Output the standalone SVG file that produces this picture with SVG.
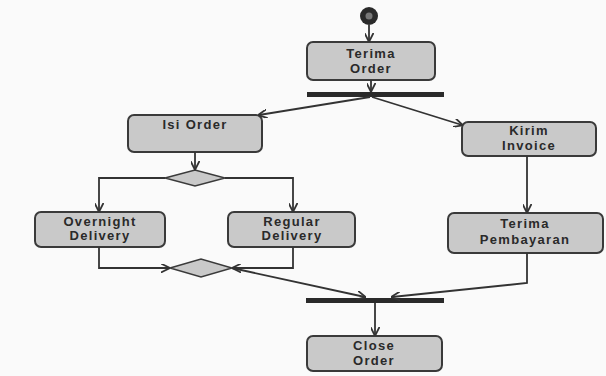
<svg xmlns="http://www.w3.org/2000/svg" width="606" height="376" viewBox="0 0 606 376">
<defs>
<marker id="arr" viewBox="0 0 10 10" refX="9" refY="5" markerWidth="9" markerHeight="9" orient="auto" markerUnits="userSpaceOnUse">
<path d="M0,0 L10,5 L0,10" fill="none" stroke="#333" stroke-width="2"/>
</marker>
</defs>
<style>
.box{fill:#c9c9c9;stroke:#3a3a3a;stroke-width:2}
.lbl{font-family:"Liberation Sans",Arial,sans-serif;font-size:13px;font-weight:bold;fill:#2a2a2a;text-anchor:middle;letter-spacing:1.3px}
.ln{fill:none;stroke:#333;stroke-width:1.8}
.bar{fill:#2a2a2a}
.dia{fill:#c9c9c9;stroke:#3a3a3a;stroke-width:1.5}
</style>
<rect width="606" height="376" fill="#fafafa"/>
<g id="start">
<circle cx="369" cy="16" r="9" fill="#2a2a2a"/>
<circle cx="369" cy="16" r="3.5" fill="#777"/>
</g>
<g id="terima-order">
<rect class="box" x="307" y="42" width="128" height="38" rx="6"/>
<text class="lbl" x="371" y="58">Terima</text>
<text class="lbl" x="371" y="73">Order</text>
</g>
<g id="fork">
<rect class="bar" x="307" y="92" width="137" height="5"/>
</g>
<g id="isi-order">
<rect class="box" x="128" y="115" width="134" height="37" rx="6"/>
<text class="lbl" x="195" y="129">Isi Order</text>
</g>
<g id="decision">
<polygon class="dia" points="165,178 195,170 225,178 195,186"/>
</g>
<g id="overnight-delivery">
<rect class="box" x="35" y="212" width="130" height="35" rx="6"/>
<text class="lbl" x="100" y="226">Overnight</text>
<text class="lbl" x="100" y="240">Delivery</text>
</g>
<g id="regular-delivery">
<rect class="box" x="228" y="212" width="127" height="35" rx="6"/>
<text class="lbl" x="292" y="226">Regular</text>
<text class="lbl" x="292" y="240">Delivery</text>
</g>
<g id="merge">
<polygon class="dia" points="170,268 201,259 232,268 201,277"/>
</g>
<g id="kirim-invoice">
<rect class="box" x="462" y="122" width="134" height="34" rx="6"/>
<text class="lbl" x="529" y="135">Kirim</text>
<text class="lbl" x="529" y="150">Invoice</text>
</g>
<g id="terima-pembayaran">
<rect class="box" x="448" y="213" width="155" height="40" rx="6"/>
<text class="lbl" x="525" y="228">Terima</text>
<text class="lbl" x="525" y="244">Pembayaran</text>
</g>
<g id="join">
<rect class="bar" x="306" y="298" width="138" height="5"/>
</g>
<g id="close-order">
<rect class="box" x="307" y="336" width="135" height="35" rx="6"/>
<text class="lbl" x="374" y="350">Close</text>
<text class="lbl" x="374" y="365">Order</text>
</g>
<g id="connectors">
<line class="ln" x1="369" y1="25" x2="369" y2="41" marker-end="url(#arr)"/>
<line class="ln" x1="371" y1="80" x2="371" y2="91" marker-end="url(#arr)"/>
<line class="ln" x1="370" y1="97" x2="259" y2="115" marker-end="url(#arr)"/>
<line class="ln" x1="372" y1="97" x2="462" y2="125" marker-end="url(#arr)"/>
<line class="ln" x1="195" y1="152" x2="195" y2="169" marker-end="url(#arr)"/>
<polyline class="ln" points="165,178 99,178 99,211" marker-end="url(#arr)"/>
<polyline class="ln" points="225,178 293,178 293,211" marker-end="url(#arr)"/>
<polyline class="ln" points="99,247 99,268 169,268" marker-end="url(#arr)"/>
<polyline class="ln" points="293,247 293,268 233,268" marker-end="url(#arr)"/>
<line class="ln" x1="232" y1="268" x2="365" y2="297" marker-end="url(#arr)"/>
<line class="ln" x1="527" y1="156" x2="527" y2="212" marker-end="url(#arr)"/>
<polyline class="ln" points="527,253 527,283 392,297" marker-end="url(#arr)"/>
<line class="ln" x1="375" y1="303" x2="375" y2="335" marker-end="url(#arr)"/>
</g>
</svg>
